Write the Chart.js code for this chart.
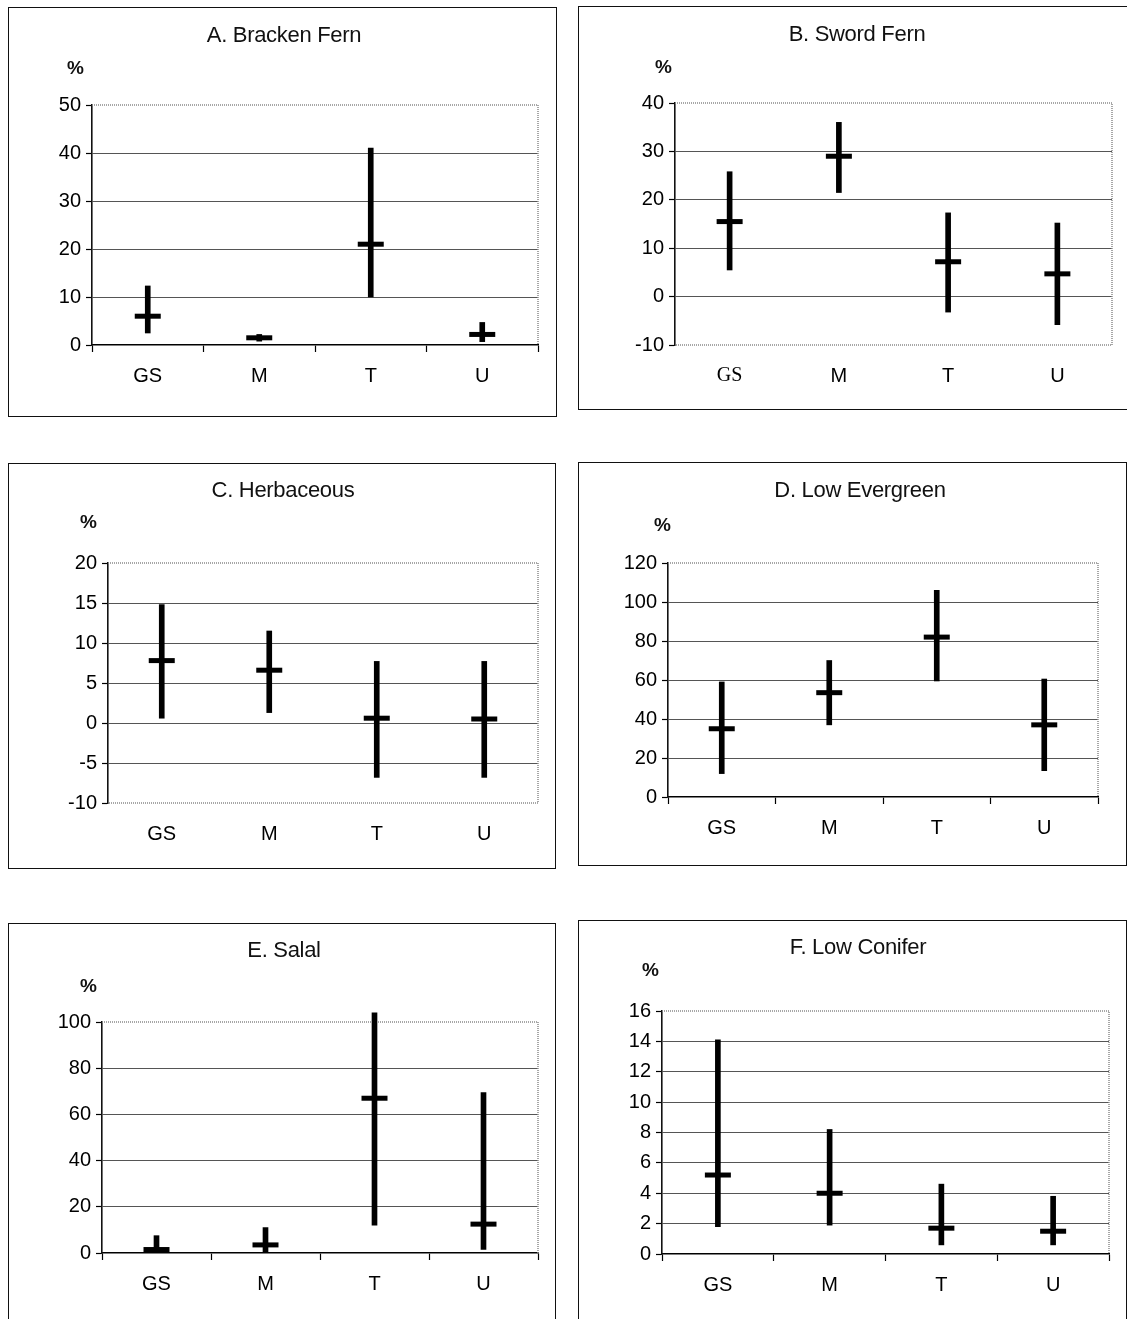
<!DOCTYPE html>
<html>
<head>
<meta charset="utf-8">
<script src="https://cdn.jsdelivr.net/npm/chart.js@4.4.1/dist/chart.umd.min.js"></script>
<style>
    body { margin: 0; background: #fff; width: 1127px; height: 1319px; overflow: hidden; position: relative; font-family: "Liberation Sans", Arial, sans-serif; }
    .panel { position: absolute; border: 1.5px solid #111; box-sizing: border-box; }
    .ttl { position: absolute; width: 400px; text-align: center; font-size: 22px; line-height: 26px; color: #111; letter-spacing: -0.3px; }
    .pct { position: absolute; font-size: 19px; font-weight: bold; line-height: 20px; color: #111; }
</style>
</head>
<body>
<script>
// categories shared by every panel
const categories = ['GS', 'M', 'T', 'U'];

// A. Bracken Fern
const brackenMean = [6, 1.5, 21, 2.2];
const brackenLow = [2.5, 0.8, 10, 0.7];
const brackenHigh = [12.3, 2.2, 41, 4.7];
const brackenAxis = [0, 50, 10];

// B. Sword Fern
const swordMean = [15.5, 29, 7.2, 4.7];
const swordLow = [5.5, 21.5, -3.2, -5.8];
const swordHigh = [25.8, 36, 17.3, 15.2];
const swordAxis = [-10, 40, 10];

// C. Herbaceous
const herbMean = [7.8, 6.6, 0.6, 0.5];
const herbLow = [0.6, 1.3, -6.8, -6.8];
const herbHigh = [14.8, 11.5, 7.7, 7.7];
const herbAxis = [-10, 20, 5];

// D. Low Evergreen
const evergreenMean = [35, 53.5, 82, 37];
const evergreenLow = [12, 37, 59.5, 13.5];
const evergreenHigh = [59, 70, 106, 60.5];
const evergreenAxis = [0, 120, 20];

// E. Salal
const salalMean = [1.5, 3.5, 67, 12.5];
const salalLow = [0, 0, 12, 1.5];
const salalHigh = [7.5, 11, 104, 69.5];
const salalAxis = [0, 100, 20];

// F. Low Conifer
const coniferMean = [5.2, 4.0, 1.7, 1.5];
const coniferLow = [1.8, 1.9, 0.6, 0.6];
const coniferHigh = [14.1, 8.2, 4.6, 3.8];
const coniferAxis = [0, 16, 2];

const panels = [
    { title: 'A. Bracken Fern', mean: brackenMean, low: brackenLow, high: brackenHigh, axis: brackenAxis,
      box: [8, 7, 549, 410], plot: [92, 105, 538, 345], titleAt: [284, 35], pctAt: [67, 68], xTicks: true },
    { title: 'B. Sword Fern', mean: swordMean, low: swordLow, high: swordHigh, axis: swordAxis,
      box: [578, 6, 552, 404], plot: [675, 103, 1113, 345], titleAt: [857, 34], pctAt: [655, 67], xTicks: false, serifFirst: true },
    { title: 'C. Herbaceous', mean: herbMean, low: herbLow, high: herbHigh, axis: herbAxis,
      box: [8, 463, 548, 406], plot: [108, 563, 538, 803], titleAt: [283, 490], pctAt: [80, 522], xTicks: false },
    { title: 'D. Low Evergreen', mean: evergreenMean, low: evergreenLow, high: evergreenHigh, axis: evergreenAxis,
      box: [578, 462, 549, 404], plot: [668, 563, 1098, 797], titleAt: [860, 490], pctAt: [654, 525], xTicks: true },
    { title: 'E. Salal', mean: salalMean, low: salalLow, high: salalHigh, axis: salalAxis,
      box: [8, 923, 548, 402], plot: [102, 1022, 538, 1253], titleAt: [284, 950], pctAt: [80, 986], xTicks: true },
    { title: 'F. Low Conifer', mean: coniferMean, low: coniferLow, high: coniferHigh, axis: coniferAxis,
      box: [578, 920, 549, 405], plot: [662, 1011, 1113, 1254], titleAt: [858, 947], pctAt: [642, 970], xTicks: true }
];

const Y_AXIS_W = 52;
const X_AXIS_H = 45;
const sans = { family: '"Liberation Sans", Arial, sans-serif', size: 20 };
const serif = { family: '"Liberation Serif", "Times New Roman", serif', size: 20 };

// dotted grey frame on the plot area (Excel style)
const plotFrame = {
    id: 'plotFrame',
    beforeDatasetsDraw(chart, args, opts) {
        const a = chart.chartArea;
        const ctx = chart.ctx;
        ctx.save();
        ctx.strokeStyle = '#8a8a8a';
        ctx.lineWidth = 1.5;
        ctx.setLineDash([1, 1]);
        ctx.beginPath();
        ctx.moveTo(a.left, a.top);
        ctx.lineTo(a.right, a.top);
        ctx.lineTo(a.right, a.bottom);
        if (opts.bottom) ctx.lineTo(a.left, a.bottom);
        ctx.stroke();
        ctx.restore();
    }
};

panels.forEach(p => {
    const [bx, by, bw, bh] = p.box;
    const [pl, pt, pr, pb] = p.plot;

    const frame = document.createElement('div');
    frame.className = 'panel';
    frame.style.cssText = `left:${bx}px;top:${by}px;width:${bw}px;height:${bh}px`;
    document.body.appendChild(frame);

    const wrap = document.createElement('div');
    wrap.style.cssText = `position:absolute;left:${bx}px;top:${by}px;width:${bw}px;height:${bh}px`;
    const canvas = document.createElement('canvas');
    wrap.appendChild(canvas);
    document.body.appendChild(wrap);

    const ttl = document.createElement('div');
    ttl.className = 'ttl';
    ttl.textContent = p.title;
    ttl.style.left = (p.titleAt[0] - 200) + 'px';
    ttl.style.top = (p.titleAt[1] - 13) + 'px';
    document.body.appendChild(ttl);

    const pct = document.createElement('div');
    pct.className = 'pct';
    pct.textContent = '%';
    pct.style.left = p.pctAt[0] + 'px';
    pct.style.top = (p.pctAt[1] - 10) + 'px';
    document.body.appendChild(pct);

    const [ymin, ymax, ystep] = p.axis;

    new Chart(canvas, {
        type: 'bar',
        data: {
            labels: categories,
            datasets: [
                {
                    type: 'line',
                    data: p.mean,
                    showLine: false,
                    pointStyle: 'line',
                    pointRadius: 13,
                    pointBorderWidth: 5,
                    borderColor: '#000',
                    backgroundColor: '#000',
                    clip: false
                },
                {
                    data: p.low.map((l, i) => [l, p.high[i]]),
                    backgroundColor: '#000',
                    borderWidth: 0,
                    barThickness: 5,
                    clip: false
                }
            ]
        },
        options: {
            responsive: true,
            maintainAspectRatio: false,
            animation: false,
            events: [],
            layout: {
                padding: {
                    left: pl - bx - Y_AXIS_W,
                    top: pt - by,
                    right: bx + bw - pr,
                    bottom: by + bh - pb - X_AXIS_H
                }
            },
            scales: {
                x: {
                    offset: true,
                    grid: {
                        offset: true,
                        drawOnChartArea: false,
                        drawTicks: true,
                        tickLength: 7,
                        tickColor: p.xTicks ? '#000' : 'rgba(0,0,0,0)',
                        tickWidth: 1.2
                    },
                    border: { display: p.xTicks, color: '#000', width: 1.6 },
                    ticks: {
                        color: '#000',
                        padding: 12,
                        font: (c) => (p.serifFirst && c.index === 0) ? serif : sans
                    },
                    afterFit: (s) => { s.height = X_AXIS_H; }
                },
                y: {
                    min: ymin,
                    max: ymax,
                    ticks: { stepSize: ystep, color: '#000', padding: 5, font: sans },
                    grid: {
                        color: (c) => (c.tick.value === ymax || c.tick.value === ymin) ? 'rgba(0,0,0,0)' : '#555',
                        lineWidth: 1,
                        tickColor: '#000',
                        tickLength: 6,
                        tickWidth: 1.2
                    },
                    border: { color: '#111', width: 1.6 },
                    afterFit: (s) => { s.width = Y_AXIS_W; }
                }
            },
            plugins: {
                legend: { display: false },
                tooltip: { enabled: false },
                plotFrame: { bottom: !p.xTicks }
            }
        },
        plugins: [plotFrame]
    });
});
</script>
</body>
</html>
